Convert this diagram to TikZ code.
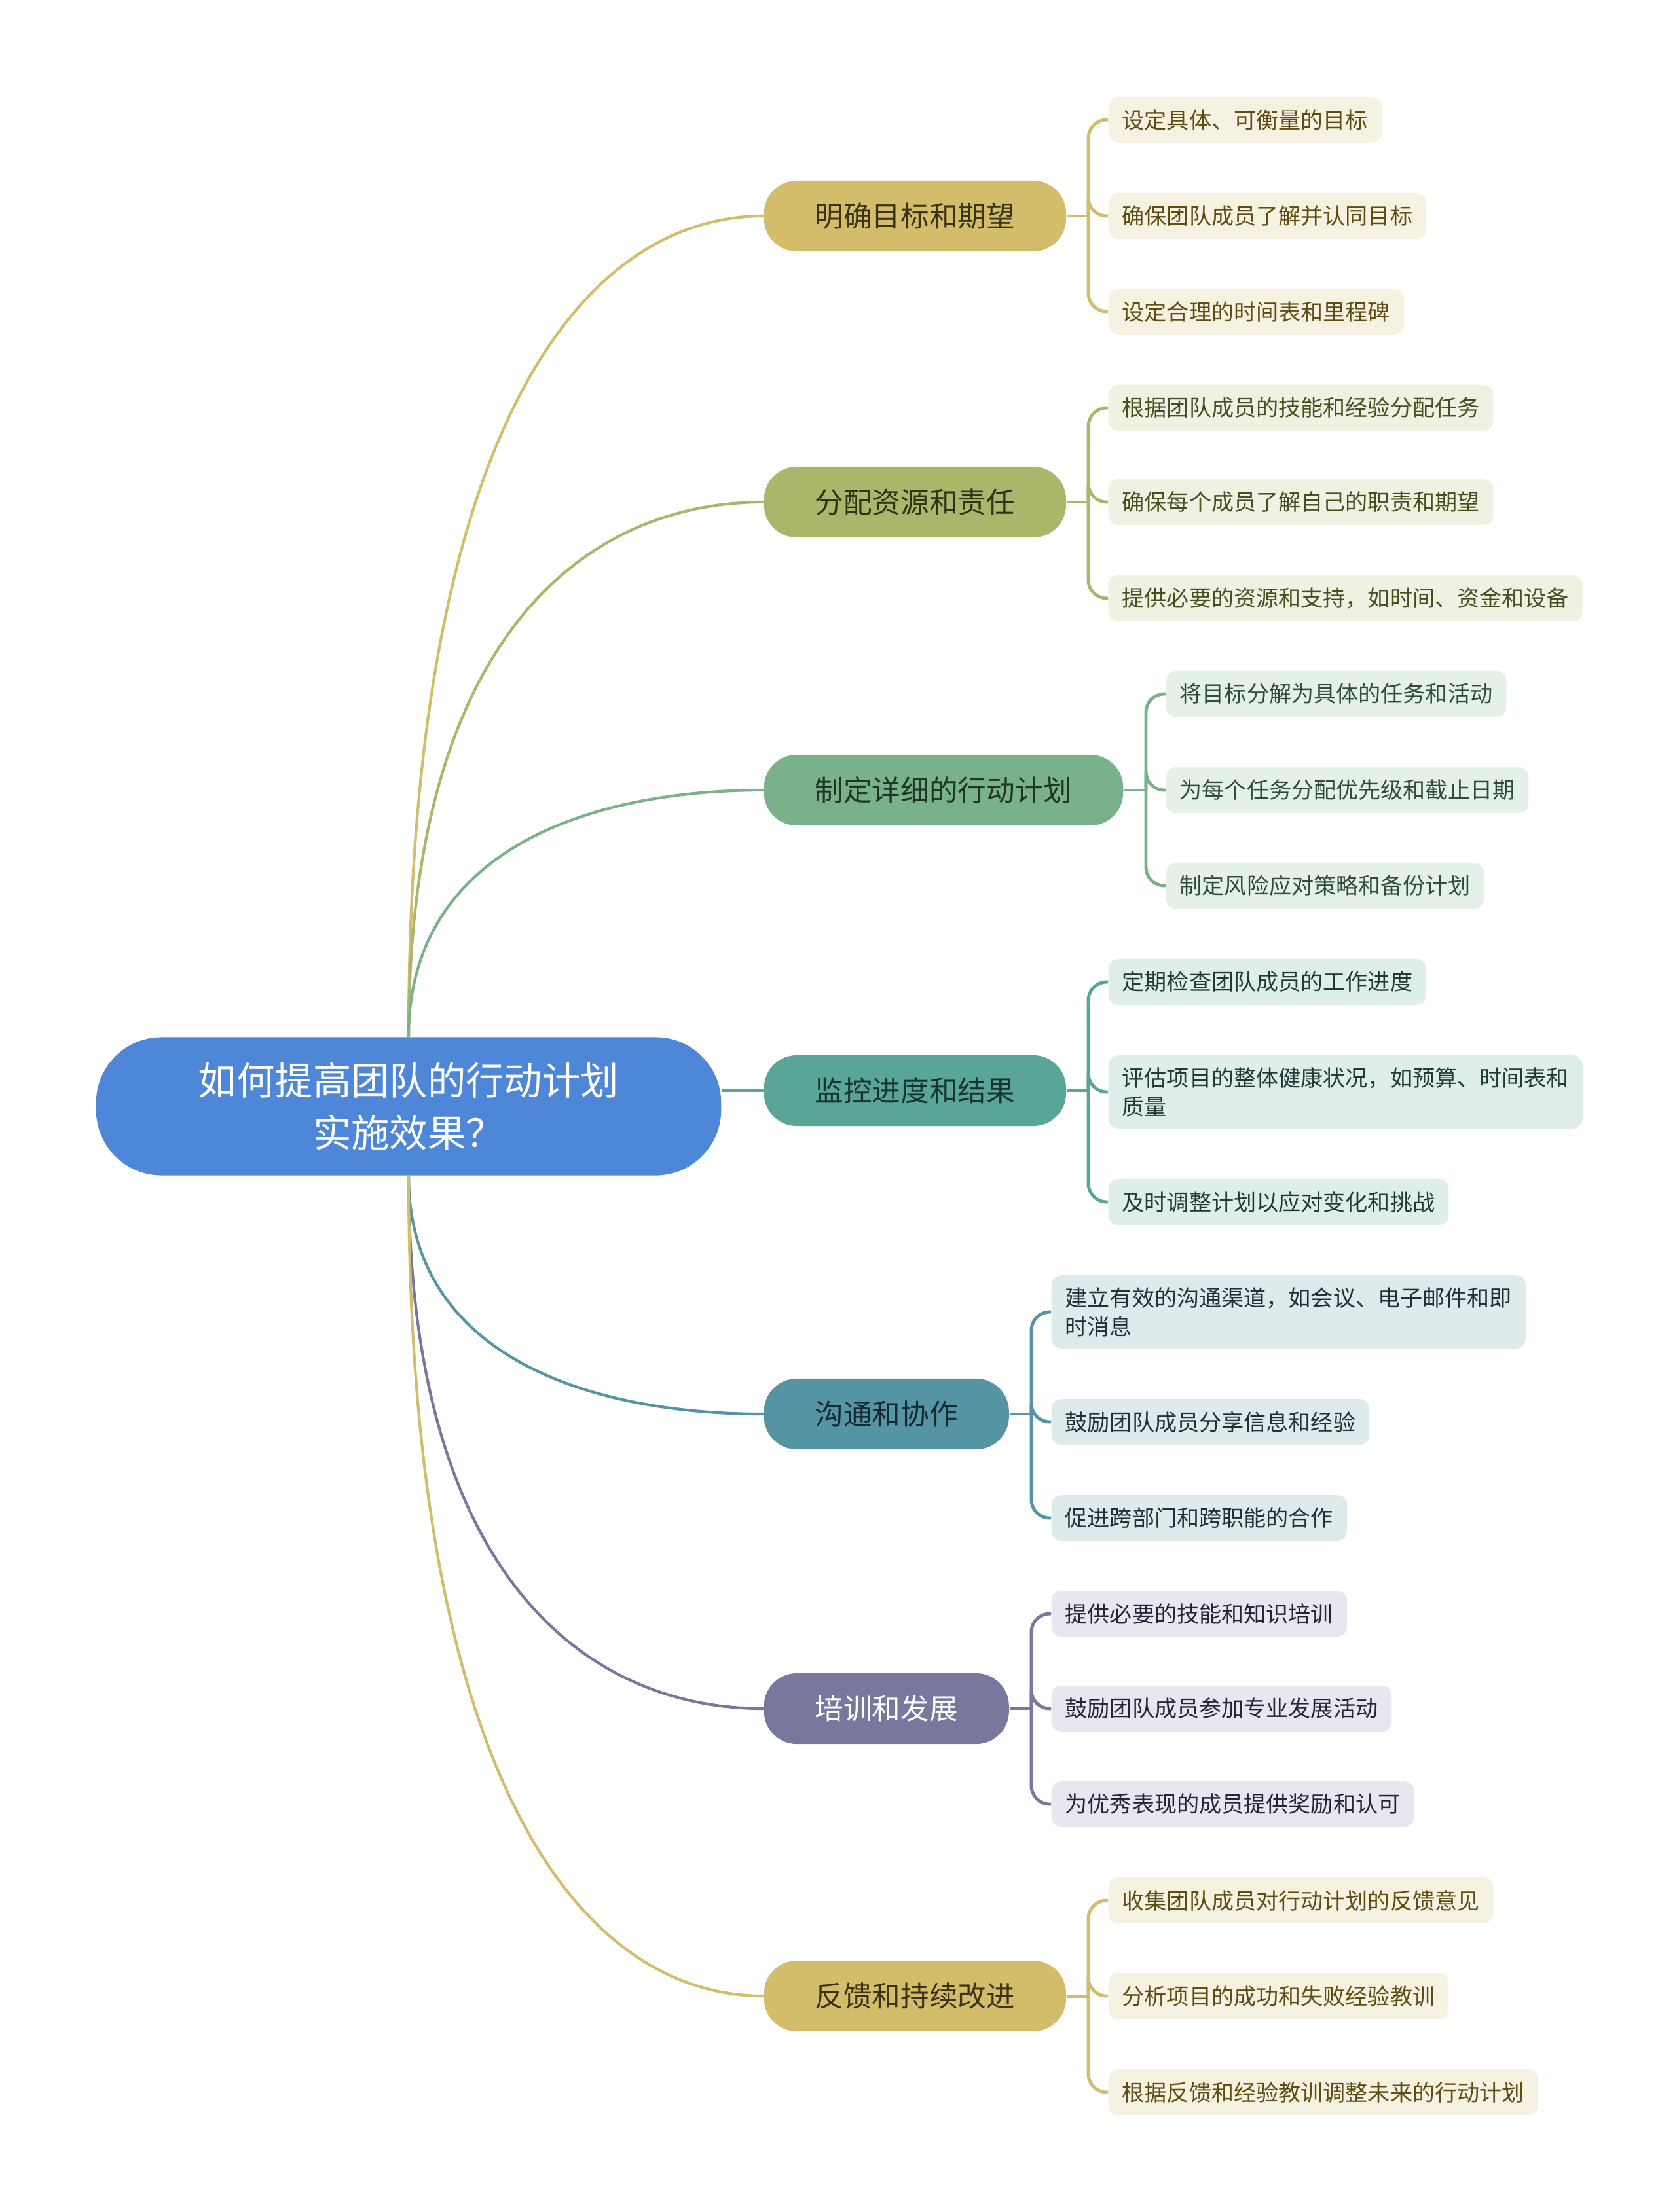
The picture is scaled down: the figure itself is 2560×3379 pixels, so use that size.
\documentclass[tikz,border=0pt]{standalone}
\usepackage{fontspec}
\usepackage{tikz}
\usetikzlibrary{calc}
\setmainfont{Noto Sans CJK SC}
\definecolor{rootblue}{HTML}{4E86D8}
\definecolor{gold}{HTML}{D3BD6B}
\definecolor{goldlight}{HTML}{F6F2E1}
\definecolor{goldtext}{HTML}{5E4C12}
\definecolor{golddark}{HTML}{3A3318}
\definecolor{olive}{HTML}{ABB66B}
\definecolor{olivelight}{HTML}{EFF1E3}
\definecolor{olivetext}{HTML}{46501F}
\definecolor{olivedark}{HTML}{2E3418}
\definecolor{sage}{HTML}{79B18A}
\definecolor{sagelight}{HTML}{E5F0E8}
\definecolor{sagetext}{HTML}{2E4D36}
\definecolor{sagedark}{HTML}{1F3525}
\definecolor{jade}{HTML}{59A597}
\definecolor{jadelight}{HTML}{DFEEEA}
\definecolor{jadetext}{HTML}{1F3B36}
\definecolor{jadedark}{HTML}{173430}
\definecolor{steel}{HTML}{5594A4}
\definecolor{steellight}{HTML}{DFEAED}
\definecolor{steeltext}{HTML}{1E3238}
\definecolor{steeldark}{HTML}{15292F}
\definecolor{iris}{HTML}{78789E}
\definecolor{irislight}{HTML}{E7E7EF}
\definecolor{iristext}{HTML}{25253A}
\newcommand\rootfont{\fontsize{16.6}{22.8}\selectfont}
\newcommand\topicfont{\fontsize{12.4}{15}\selectfont}
\newcommand\leaffont{\fontsize{9.7}{12.5}\selectfont}
\tikzset{
  rootnode/.style={rounded corners=1cm, fill=rootblue, text=white, minimum width=9.54cm,
                   minimum height=2.11cm, align=center, font=\rootfont},
  topic/.style={rounded corners=0.5cm, minimum height=1.08cm, inner xsep=0.78cm,
                inner ysep=0pt, anchor=west, font=\topicfont},
  leaf/.style={rounded corners=0.15cm, minimum height=0.7cm, inner xsep=0.21cm,
               inner ysep=0.18cm, anchor=west, align=left, font=\leaffont},
  limb/.style={draw=#1, line width=1.2pt},
  twig/.style={draw=#1, line width=1.4pt, rounded corners=0.28cm},
}

\begin{document}
\begin{tikzpicture}[x=0.01cm, y=-0.01cm]
    \useasboundingbox (0,0) rectangle (2560,3379);
    \node[rootnode] (root) at (624,1690) {如何提高团队的行动计划\\实施效果？};
    % main topics
    \node[topic, fill=gold, text=golddark] (b1) at (1166,330) {明确目标和期望};
    \node[topic, fill=olive, text=olivedark] (b2) at (1166,767) {分配资源和责任};
    \node[topic, fill=sage, text=sagedark] (b3) at (1166,1207) {制定详细的行动计划};
    \node[topic, fill=jade, text=jadedark] (b4) at (1166,1666) {监控进度和结果};
    \node[topic, fill=steel, text=steeldark] (b5) at (1166,2160) {沟通和协作};
    \node[topic, fill=iris, text=white] (b6) at (1166,2610) {培训和发展};
    \node[topic, fill=gold, text=golddark] (b7) at (1166,3049) {反馈和持续改进};
    % root to topics
    \draw[limb=gold] (root.north) .. controls ($(root.north)!.75!(root.north |- b1.west)$) and ($(root.north |- b1.west)!.5!(b1.west)$) .. (b1.west);
    \draw[limb=olive] (root.north) .. controls ($(root.north)!.75!(root.north |- b2.west)$) and ($(root.north |- b2.west)!.5!(b2.west)$) .. (b2.west);
    \draw[limb=sage] (root.north) .. controls ($(root.north)!.75!(root.north |- b3.west)$) and ($(root.north |- b3.west)!.5!(b3.west)$) .. (b3.west);
    \draw[limb=jade] (root.east |- b4.west) -- (b4.west);
    \draw[limb=steel] (root.south) .. controls ($(root.south)!.75!(root.south |- b5.west)$) and ($(root.south |- b5.west)!.5!(b5.west)$) .. (b5.west);
    \draw[limb=iris] (root.south) .. controls ($(root.south)!.75!(root.south |- b6.west)$) and ($(root.south |- b6.west)!.5!(b6.west)$) .. (b6.west);
    \draw[limb=gold] (root.south) .. controls ($(root.south)!.75!(root.south |- b7.west)$) and ($(root.south |- b7.west)!.5!(b7.west)$) .. (b7.west);
    % topic 1
    \node[leaf, fill=goldlight, text=goldtext] (c11) at (1692,183) {设定具体、可衡量的目标};
    \node[leaf, fill=goldlight, text=goldtext] (c12) at (1692,330) {确保团队成员了解并认同目标};
    \node[leaf, fill=goldlight, text=goldtext] (c13) at (1692,476) {设定合理的时间表和里程碑};
    \coordinate (s1) at (1662,330);
    \draw[twig=gold] (b1.east) -- (s1);
    \draw[twig=gold] (s1) |- (c11.west);
    \draw[twig=gold] (s1) |- (c12.west);
    \draw[twig=gold] (s1) |- (c13.west);
    % topic 2
    \node[leaf, fill=olivelight, text=olivetext] (c21) at (1692,623) {根据团队成员的技能和经验分配任务};
    \node[leaf, fill=olivelight, text=olivetext] (c22) at (1692,767) {确保每个成员了解自己的职责和期望};
    \node[leaf, fill=olivelight, text=olivetext] (c23) at (1692,914) {提供必要的资源和支持，如时间、资金和设备};
    \coordinate (s2) at (1662,767);
    \draw[twig=olive] (b2.east) -- (s2);
    \draw[twig=olive] (s2) |- (c21.west);
    \draw[twig=olive] (s2) |- (c22.west);
    \draw[twig=olive] (s2) |- (c23.west);
    % topic 3
    \node[leaf, fill=sagelight, text=sagetext] (c31) at (1780,1060) {将目标分解为具体的任务和活动};
    \node[leaf, fill=sagelight, text=sagetext] (c32) at (1780,1207) {为每个任务分配优先级和截止日期};
    \node[leaf, fill=sagelight, text=sagetext] (c33) at (1780,1353) {制定风险应对策略和备份计划};
    \coordinate (s3) at (1750,1207);
    \draw[twig=sage] (b3.east) -- (s3);
    \draw[twig=sage] (s3) |- (c31.west);
    \draw[twig=sage] (s3) |- (c32.west);
    \draw[twig=sage] (s3) |- (c33.west);
    % topic 4
    \node[leaf, fill=jadelight, text=jadetext] (c41) at (1692,1500) {定期检查团队成员的工作进度};
    \node[leaf, fill=jadelight, text=jadetext] (c42) at (1692,1668) {评估项目的整体健康状况，如预算、时间表和\\质量};
    \node[leaf, fill=jadelight, text=jadetext] (c43) at (1692,1836) {及时调整计划以应对变化和挑战};
    \coordinate (s4) at (1662,1666);
    \draw[twig=jade] (b4.east) -- (s4);
    \draw[twig=jade] (s4) |- (c41.west);
    \draw[twig=jade] (s4) |- (c42.west);
    \draw[twig=jade] (s4) |- (c43.west);
    % topic 5
    \node[leaf, fill=steellight, text=steeltext] (c51) at (1605,2004) {建立有效的沟通渠道，如会议、电子邮件和即\\时消息};
    \node[leaf, fill=steellight, text=steeltext] (c52) at (1605,2172) {鼓励团队成员分享信息和经验};
    \node[leaf, fill=steellight, text=steeltext] (c53) at (1605,2319) {促进跨部门和跨职能的合作};
    \coordinate (s5) at (1575,2160);
    \draw[twig=steel] (b5.east) -- (s5);
    \draw[twig=steel] (s5) |- (c51.west);
    \draw[twig=steel] (s5) |- (c52.west);
    \draw[twig=steel] (s5) |- (c53.west);
    % topic 6
    \node[leaf, fill=irislight, text=iristext] (c61) at (1605,2465) {提供必要的技能和知识培训};
    \node[leaf, fill=irislight, text=iristext] (c62) at (1605,2610) {鼓励团队成员参加专业发展活动};
    \node[leaf, fill=irislight, text=iristext] (c63) at (1605,2756) {为优秀表现的成员提供奖励和认可};
    \coordinate (s6) at (1575,2610);
    \draw[twig=iris] (b6.east) -- (s6);
    \draw[twig=iris] (s6) |- (c61.west);
    \draw[twig=iris] (s6) |- (c62.west);
    \draw[twig=iris] (s6) |- (c63.west);
    % topic 7
    \node[leaf, fill=goldlight, text=goldtext] (c71) at (1692,2903) {收集团队成员对行动计划的反馈意见};
    \node[leaf, fill=goldlight, text=goldtext] (c72) at (1692,3049) {分析项目的成功和失败经验教训};
    \node[leaf, fill=goldlight, text=goldtext] (c73) at (1692,3196) {根据反馈和经验教训调整未来的行动计划};
    \coordinate (s7) at (1662,3049);
    \draw[twig=gold] (b7.east) -- (s7);
    \draw[twig=gold] (s7) |- (c71.west);
    \draw[twig=gold] (s7) |- (c72.west);
    \draw[twig=gold] (s7) |- (c73.west);
  \end{tikzpicture}
\end{document}
